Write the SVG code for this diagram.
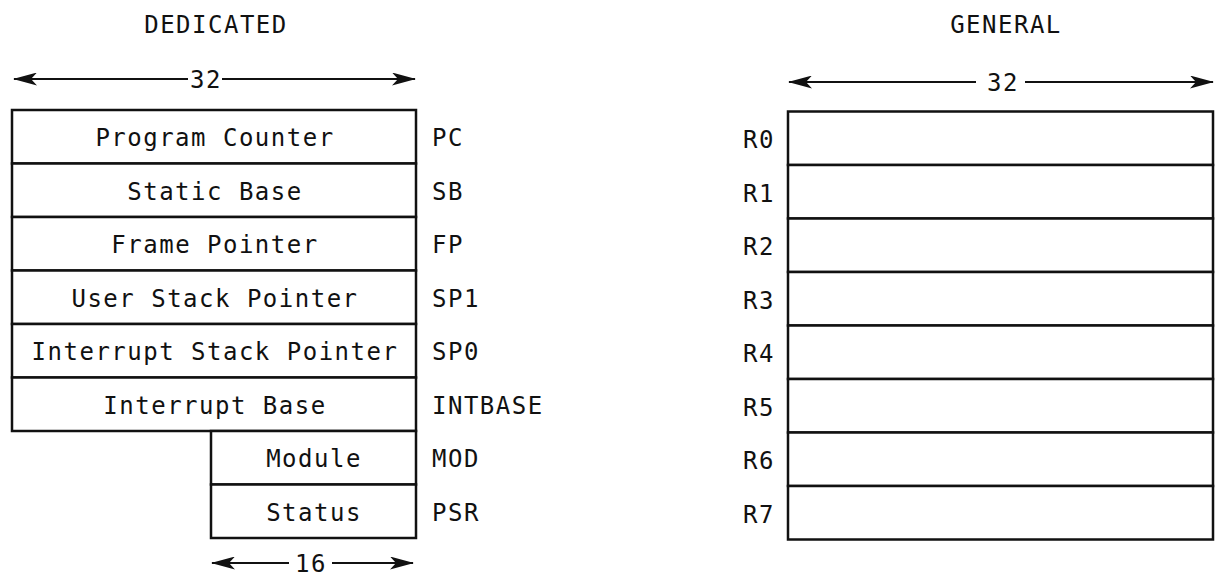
<svg xmlns="http://www.w3.org/2000/svg" width="1219" height="581" viewBox="0 0 1219 581">
<defs>
<marker id="ah" viewBox="0 0 24 13" refX="23" refY="6.5" markerWidth="24" markerHeight="13" markerUnits="userSpaceOnUse" orient="auto-start-reverse">
<path d="M0,0 L24,6.5 L0,13 L6,6.5 Z" fill="#111"/>
</marker>
<style>
text{font-family:"DejaVu Sans Mono","Liberation Mono",monospace;font-size:24px;fill:#111;letter-spacing:1.5px}
.c{text-anchor:middle}
.box{fill:#fff;stroke:#111;stroke-width:2.5}
.ln{stroke:#111;stroke-width:2.2;fill:none}
</style>
</defs>
<rect width="1219" height="581" fill="#fff"/>
<text class="c" x="216" y="33">DEDICATED</text>
<text class="c" x="1006" y="33">GENERAL</text>
<g id="connectors">
<line class="ln" x1="188" y1="79" x2="14" y2="79" marker-end="url(#ah)"/>
<line class="ln" x1="222" y1="79" x2="415" y2="79" marker-end="url(#ah)"/>
<text class="c" x="206" y="88">32</text>
<line class="ln" x1="976" y1="82" x2="789" y2="82" marker-end="url(#ah)"/>
<line class="ln" x1="1025" y1="82" x2="1213" y2="82" marker-end="url(#ah)"/>
<text class="c" x="1003" y="91">32</text>
<line class="ln" x1="289" y1="563" x2="212" y2="563" marker-end="url(#ah)"/>
<line class="ln" x1="332" y1="563" x2="413" y2="563" marker-end="url(#ah)"/>
<text class="c" x="311" y="572">16</text>
</g>
<g id="pc"><rect class="box" x="12" y="110" width="404" height="53.5"/><text class="c" x="215" y="146">Program Counter</text><text x="432" y="146">PC</text></g>
<g id="sb"><rect class="box" x="12" y="163.5" width="404" height="53.5"/><text class="c" x="215" y="199.5">Static Base</text><text x="432" y="199.5">SB</text></g>
<g id="fp"><rect class="box" x="12" y="217" width="404" height="53.5"/><text class="c" x="215" y="253">Frame Pointer</text><text x="432" y="253">FP</text></g>
<g id="sp1"><rect class="box" x="12" y="270.5" width="404" height="53.5"/><text class="c" x="215" y="306.5">User Stack Pointer</text><text x="432" y="306.5">SP1</text></g>
<g id="sp0"><rect class="box" x="12" y="324" width="404" height="53.5"/><text class="c" x="215" y="360">Interrupt Stack Pointer</text><text x="432" y="360">SP0</text></g>
<g id="intbase"><rect class="box" x="12" y="377.5" width="404" height="53.5"/><text class="c" x="215" y="413.5">Interrupt Base</text><text x="432" y="413.5">INTBASE</text></g>
<g id="mod"><rect class="box" x="211" y="431" width="205" height="53.5"/><text class="c" x="314" y="467">Module</text><text x="432" y="467">MOD</text></g>
<g id="psr"><rect class="box" x="211" y="484.5" width="205" height="53.5"/><text class="c" x="314" y="520.5">Status</text><text x="432" y="520.5">PSR</text></g>
<g id="r0"><rect class="box" x="788" y="111.5" width="425" height="53.5"/><text x="743" y="148">R0</text></g>
<g id="r1"><rect class="box" x="788" y="165" width="425" height="53.5"/><text x="743" y="201.5">R1</text></g>
<g id="r2"><rect class="box" x="788" y="218.5" width="425" height="53.5"/><text x="743" y="255">R2</text></g>
<g id="r3"><rect class="box" x="788" y="272" width="425" height="53.5"/><text x="743" y="308.5">R3</text></g>
<g id="r4"><rect class="box" x="788" y="325.5" width="425" height="53.5"/><text x="743" y="362">R4</text></g>
<g id="r5"><rect class="box" x="788" y="379" width="425" height="53.5"/><text x="743" y="415.5">R5</text></g>
<g id="r6"><rect class="box" x="788" y="432.5" width="425" height="53.5"/><text x="743" y="469">R6</text></g>
<g id="r7"><rect class="box" x="788" y="486" width="425" height="53.5"/><text x="743" y="522.5">R7</text></g>
</svg>
